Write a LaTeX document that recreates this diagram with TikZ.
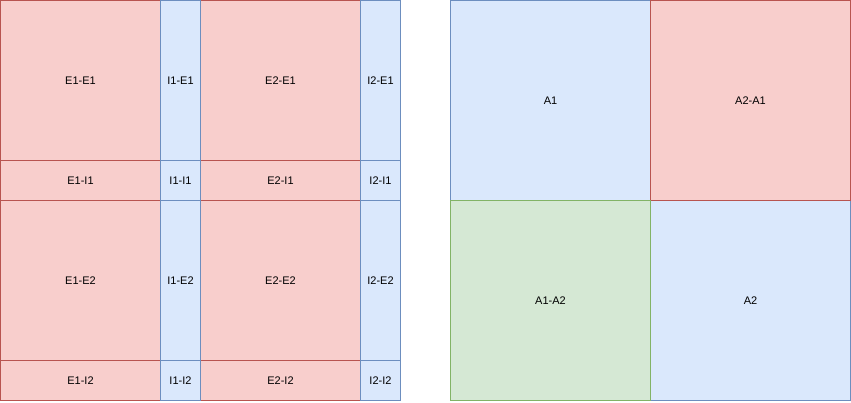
\documentclass[tikz,border=0pt]{standalone}
\usepackage{fontspec}
\setmainfont{Liberation Sans}
\definecolor{redfill}{HTML}{F8CECC}\definecolor{redline}{HTML}{B85450}
\definecolor{bluefill}{HTML}{DAE8FC}\definecolor{blueline}{HTML}{6C8EBF}
\definecolor{greenfill}{HTML}{D5E8D4}\definecolor{greenline}{HTML}{82B366}
\tikzset{cell/.style={rectangle,line width=1pt,inner sep=0pt,font=\fontsize{11}{13}\selectfont},
 redcell/.style={cell,draw=redline,fill=redfill},
 bluecell/.style={cell,draw=blueline,fill=bluefill},
 greencell/.style={cell,draw=greenline,fill=greenfill},
 big/.style={minimum width=160pt,minimum height=160pt},
 thin/.style={minimum width=40pt,minimum height=160pt},
 flat/.style={minimum width=160pt,minimum height=40pt},
 small/.style={minimum width=40pt,minimum height=40pt},
 quad/.style={minimum width=200pt,minimum height=200pt}}

\begin{document}
\begin{tikzpicture}[x=1pt,y=-1pt]
\useasboundingbox (0,0) rectangle (851,402);
% left grid, red cells first
\node[redcell,big] (e1e1) at (80.5,80.5) {E1-E1}; \node[redcell,big] (e2e1) at (280.5,80.5) {E2-E1};
\node[redcell,flat] (e1i1) at (80.5,180.5) {E1-I1}; \node[redcell,flat] (e2i1) at (280.5,180.5) {E2-I1};
\node[redcell,big] (e1e2) at (80.5,280.5) {E1-E2}; \node[redcell,big] (e2e2) at (280.5,280.5) {E2-E2};
\node[redcell,flat] (e1i2) at (80.5,380.5) {E1-I2}; \node[redcell,flat] (e2i2) at (280.5,380.5) {E2-I2};
% blue cells on top
\node[bluecell,thin] (i1e1) at (180.5,80.5) {I1-E1}; \node[bluecell,thin] (i2e1) at (380.5,80.5) {I2-E1};
\node[bluecell,small] (i1i1) at (180.5,180.5) {I1-I1}; \node[bluecell,small] (i2i1) at (380.5,180.5) {I2-I1};
\node[bluecell,thin] (i1e2) at (180.5,280.5) {I1-E2}; \node[bluecell,thin] (i2e2) at (380.5,280.5) {I2-E2};
\node[bluecell,small] (i1i2) at (180.5,380.5) {I1-I2}; \node[bluecell,small] (i2i2) at (380.5,380.5) {I2-I2};
% right grid
\node[bluecell,quad] (a1) at (550.5,100.5) {A1}; \node[bluecell,quad] (a2) at (750.5,300.5) {A2};
\node[redcell,quad] (a2a1) at (750.5,100.5) {A2-A1}; \node[greencell,quad] (a1a2) at (550.5,300.5) {A1-A2};
\end{tikzpicture}
\end{document}
